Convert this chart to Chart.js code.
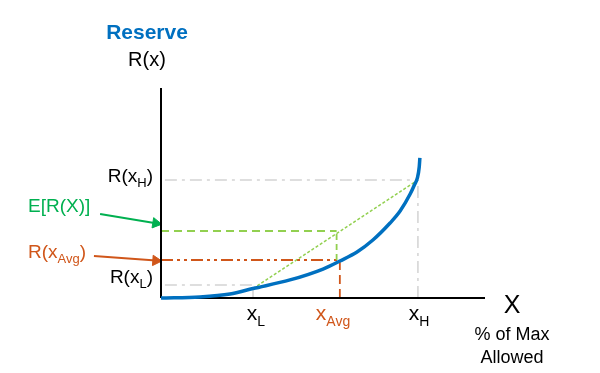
<!DOCTYPE html>
<html>
<head>
<meta charset="utf-8">
<script src="https://cdn.jsdelivr.net/npm/chart.js@4.4.1/dist/chart.umd.min.js"></script>
<style>
  body { margin: 0; background: #fff; }
  #wrap { width: 600px; height: 373px; position: relative; }
</style>
</head>
<body>
<div id="wrap"><canvas id="c"></canvas></div>
<script>
// reserve curve R(x), x = % of max allowed
const curveX = [0, 12.0, 21.3, 28.4, 39.8, 50.0, 55.2, 60.5, 65.4, 70.7, 73.8, 76.9, 78.2, 79.2, 79.7, 79.9];
const curveY = [0, 0.5, 1.9, 4.5, 8.6, 13.8, 17.6, 21.9, 27.6, 35.7, 41.4, 49.5, 53.8, 57.6, 62.4, 66.7];

// key points
const xL = 28.4, xAvg = 55.2, xH = 79.3;
const rL = 4.5, rAvg = 18.1, rH = 56.2;
const expR = 31.9;      // E[R(X)] on the chord at xAvg
const rLGuide = 6.2;    // gray guide drawn slightly above R(xL)

// arrows: [start, end]
const greenArrowX = [-18.8, -1.6];
const greenArrowY = [40, 35.6];
const orangeArrowX = [-20.7, -1.6];
const orangeArrowY = [20, 17.8];

const BLUE = '#0070C0';
const GREEN_TXT = '#00B050';
const GREEN_LN = '#92D050';
const ORANGE = '#D0561A';
const GRAY = '#D3D3D3';
const FONT = '"Liberation Sans", Arial, sans-serif';

function pts(xs, ys) { return xs.map((v, i) => ({x: v, y: ys[i]})); }

function seg(data, color, width, dash, extra) {
  return Object.assign({
    data: data,
    borderColor: color,
    backgroundColor: color,
    borderWidth: width,
    borderDash: dash || [],
    pointRadius: 0,
    fill: false,
    clip: false,
    tension: 0
  }, extra || {});
}

// draw text with optional subscript parts
function rich(ctx, parts, px, py, size, color, align) {
  const subSize = Math.round(size * 0.67);
  let w = 0;
  parts.forEach(p => {
    ctx.font = (p.sub ? subSize : size) + 'px ' + FONT;
    w += ctx.measureText(p.t).width;
  });
  let x = align === 'right' ? px - w : align === 'center' ? px - w / 2 : px;
  ctx.fillStyle = color;
  ctx.textBaseline = 'alphabetic';
  ctx.textAlign = 'left';
  parts.forEach(p => {
    ctx.font = (p.sub ? subSize : size) + 'px ' + FONT;
    ctx.fillText(p.t, x, p.sub ? py + size * 0.28 : py);
    x += ctx.measureText(p.t).width;
  });
}

const labelPlugin = {
  id: 'labels',
  afterDraw(chart) {
    const ctx = chart.ctx;
    const sx = chart.scales.x, sy = chart.scales.y;
    const left = sx.getPixelForValue(0);
    const base = sy.getPixelForValue(0);
    ctx.save();

    ctx.font = 'bold 21px ' + FONT;
    ctx.fillStyle = BLUE;
    ctx.textAlign = 'center';
    ctx.fillText('Reserve', 147, 39);
    rich(ctx, [{t: 'R(x)'}], 147, 66, 20, '#000', 'center');

    rich(ctx, [{t: 'R(x'}, {t: 'H', sub: true}, {t: ')'}], left - 8, sy.getPixelForValue(rH) + 2, 19, '#000', 'right');
    rich(ctx, [{t: 'R(x'}, {t: 'L', sub: true}, {t: ')'}], left - 8, sy.getPixelForValue(rLGuide) - 2, 19, '#000', 'right');
    rich(ctx, [{t: 'E[R(X)]'}], 28, 212, 19, GREEN_TXT, 'left');
    rich(ctx, [{t: 'R(x'}, {t: 'Avg', sub: true}, {t: ')'}], 28, 258, 19, ORANGE, 'left');

    rich(ctx, [{t: 'x'}, {t: 'L', sub: true}], sx.getPixelForValue(xL) + 3, base + 22, 21, '#000', 'center');
    rich(ctx, [{t: 'x'}, {t: 'Avg', sub: true}], sx.getPixelForValue(xAvg) - 24, base + 22, 21, ORANGE, 'left');
    rich(ctx, [{t: 'x'}, {t: 'H', sub: true}], sx.getPixelForValue(xH) + 1, base + 22, 21, '#000', 'center');

    rich(ctx, [{t: 'X'}], 512, 313, 25, '#000', 'center');
    rich(ctx, [{t: '% of Max'}], 512, 340, 18, '#000', 'center');
    rich(ctx, [{t: 'Allowed'}], 512, 363, 18, '#000', 'center');
    ctx.restore();
  }
};

new Chart(document.getElementById('c'), {
  type: 'line',
  data: {
    datasets: [
      seg(pts(curveX, curveY), BLUE, 3.5, [], {cubicInterpolationMode: 'monotone'}),
      seg(pts([0, 0], [0, 100]), '#000', 2),
      seg(pts([0, 100], [0, 0]), '#000', 2),
      seg(pts([xL, xH], [rL, rH]), GREEN_LN, 1.5, [3, 2]),
      seg(pts([0, xAvg - 1], [expR, expR]), GREEN_LN, 1.8, [8, 5]),
      seg(pts([xAvg - 1, xAvg - 1], [rAvg, expR]), GREEN_LN, 1.8, [6, 4]),
      seg(pts([0, xAvg], [rAvg, rAvg]), ORANGE, 1.8, [12, 4, 3, 4, 3, 4]),
      seg(pts([xAvg, xAvg], [0, rAvg]), ORANGE, 1.8, [9, 5]),
      seg(pts([1.2, xH], [rH, rH]), GRAY, 1.5, [12, 5, 3, 5]),
      seg(pts([xH, xH], [0, rH]), GRAY, 1.5, [12, 5, 3, 5]),
      seg(pts([1.2, xL], [rLGuide, rLGuide]), GRAY, 1.5, [12, 5, 3, 5]),
      seg(pts([xL, xL], [0, rL]), GRAY, 1.5),
      seg(pts(greenArrowX, greenArrowY), GREEN_TXT, 2, [], {
        pointRadius: [0, 6], pointStyle: 'triangle', pointRotation: 99, pointBorderWidth: 1
      }),
      seg(pts(orangeArrowX, orangeArrowY), ORANGE, 2, [], {
        pointRadius: [0, 6], pointStyle: 'triangle', pointRotation: 94, pointBorderWidth: 1
      })
    ]
  },
  options: {
    responsive: true,
    maintainAspectRatio: false,
    animation: false,
    layout: { padding: { left: 161, right: 115, top: 88, bottom: 75 } },
    plugins: { legend: { display: false }, tooltip: { enabled: false } },
    scales: {
      x: { type: 'linear', min: 0, max: 100, display: false },
      y: { type: 'linear', min: 0, max: 100, display: false }
    }
  },
  plugins: [labelPlugin]
});
</script>
</body>
</html>
